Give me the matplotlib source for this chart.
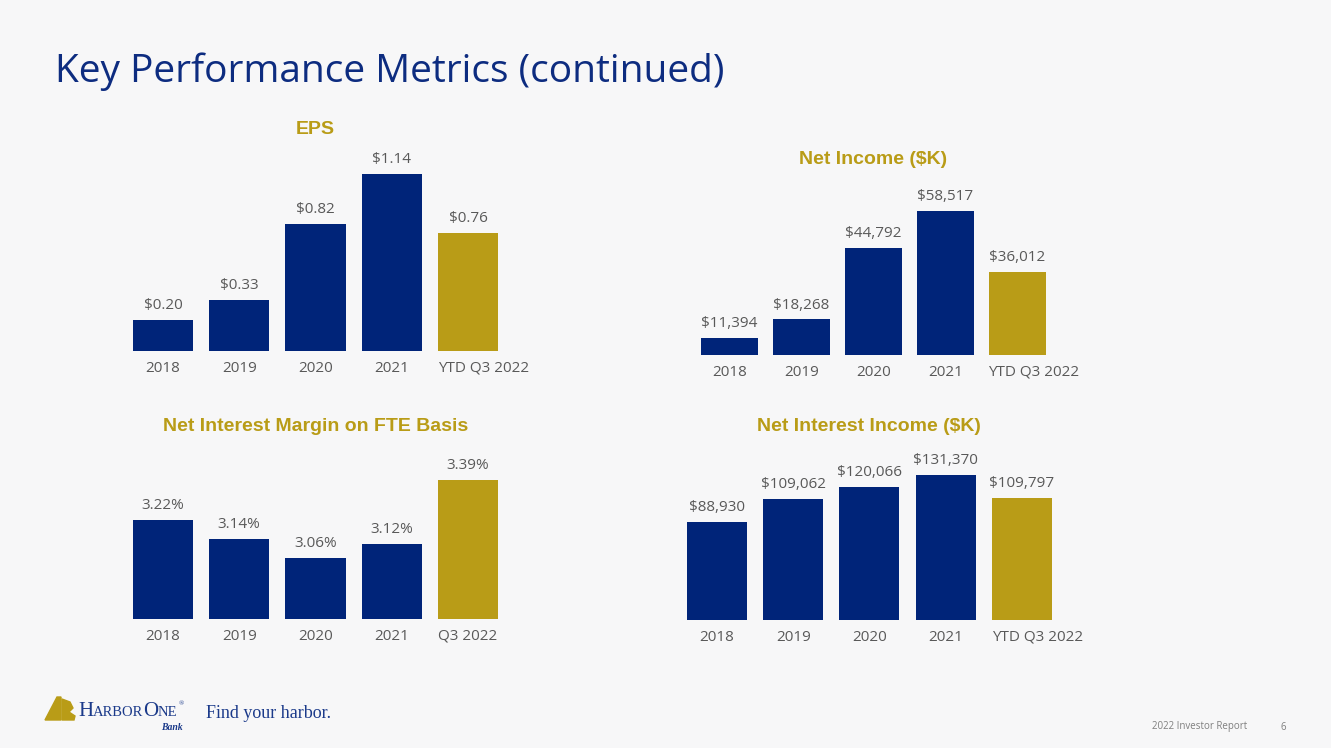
import matplotlib
matplotlib.use('Agg')
import matplotlib.pyplot as plt
import matplotlib.transforms as mtransforms
from matplotlib.patches import Polygon

# データ
years = ['2018', '2019', '2020', '2021', 'YTD Q3 2022']
years_nim = ['2018', '2019', '2020', '2021', 'Q3 2022']
eps = [0.20, 0.33, 0.82, 1.14, 0.76]
net_income = [11394, 18268, 44792, 58517, 36012]
nim = [3.22, 3.14, 3.06, 3.12, 3.39]
nii = [88930, 109062, 120066, 131370, 109797]

NAVY = '#002479'
GOLD = '#B99C17'
GRAY = '#595959'
BG = '#F7F7F8'
W, H = 1331, 748

plt.rcParams['font.family'] = ['Open Sans', 'DejaVu Sans']

fig = plt.figure(figsize=(W / 100, H / 100), dpi=100, facecolor=BG)


def make_axes(c0, step, base_y, ppu, ymin, ymax):
    # 1本目の棒の中心 c0, 間隔 step, 基線 base_y (上からのpx)
    left = c0 - step / 2
    height = (ymax - ymin) * ppu
    ax = fig.add_axes([left / W, (H - base_y) / H, 5 * step / W, height / H])
    ax.set_xlim(-0.5, 4.5)
    ax.set_ylim(ymin, ymax)
    ax.set_facecolor('none')
    for s in ax.spines.values():
        s.set_visible(False)
    ax.set_yticks([])
    return ax


def draw_bars(ax, labels, values, fmt, title, title_y):
    colors = [NAVY] * (len(values) - 1) + [GOLD]
    x = range(len(values))
    ax.bar(x, values, width=0.79, color=colors)
    for i, v in enumerate(values):
        ax.annotate(fmt(v), xy=(i, v), xytext=(0, 5), textcoords='offset points',
                    ha='center', va='bottom', fontsize=11, color=GRAY)
    ax.set_xticks(list(x))
    ax.set_xticklabels(labels, fontsize=11, color=GRAY)
    ax.tick_params(axis='x', length=0, pad=7)
    # 長いラベル (YTD...) は少し右にずれている
    for lab in ax.get_xticklabels():
        if lab.get_text().startswith('YTD'):
            lab.set_transform(lab.get_transform() +
                              mtransforms.ScaledTranslation(0.16, 0, fig.dpi_scale_trans))
    # 小見出し
    bb = ax.get_position()
    fig.text((bb.x0 + bb.x1) / 2, 1 - title_y / H, title, ha='center', va='center',
             fontsize=14, fontweight='bold', color=GOLD, family='Liberation Sans')


ax1 = make_axes(163, 76.25, 351, 155, 0, 1.3)
draw_bars(ax1, years, eps, lambda v: f'${v:.2f}', 'EPS', 130)

ax2 = make_axes(729.5, 72, 355, 0.002695, 5086, 62000)
draw_bars(ax2, years, net_income, lambda v: f'${v:,}', 'Net Income ($K)', 159)

ax3 = make_axes(163, 76.25, 619, 237.5, 2.805, 3.5)
draw_bars(ax3, years_nim, nim, lambda v: f'{v:.2f}%', 'Net Interest Margin on FTE Basis', 427)

ax4 = make_axes(717, 76.2, 620, 0.0011075, 0, 140000)
draw_bars(ax4, years, nii, lambda v: f'${v:,}', 'Net Interest Income ($K)', 427)

# タイトル
fig.text(55 / W, 1 - 72 / H, 'Key Performance Metrics (continued)', ha='left', va='center',
         fontsize=28, color='#0D2C80')

# フッター
fig.text(1247 / W, 1 - 727 / H, '2022 Investor Report', ha='right', va='center',
         fontsize=7, color='#7F7F7F')
fig.text(1283 / W, 1 - 727 / H, '6', ha='center', va='center', fontsize=7, color='#7F7F7F')

# ロゴ
logo = fig.add_axes([0, 0, 1, 1], facecolor='none')
logo.set_xlim(0, W)
logo.set_ylim(H, 0)
logo.axis('off')
logo.add_patch(Polygon([(45, 720), (57, 697), (61, 697), (61, 720)], closed=True, color=GOLD))
logo.add_patch(Polygon([(62, 699), (70, 702), (73, 708), (69, 712), (75, 716), (74, 720), (62, 720)],
                       closed=True, color=GOLD))
ink = '#1B3A8A'
logo.text(78, 712, 'H', fontsize=15, family='Liberation Serif', color=ink, va='center')
logo.text(93, 713, 'ARBOR', fontsize=10.5, family='Liberation Serif', color=ink, va='center')
logo.text(143, 712, 'O', fontsize=15, family='Liberation Serif', color=ink, va='center')
logo.text(158, 713, 'NE', fontsize=10.5, family='Liberation Serif', color=ink, va='center')
logo.text(179, 704, '®', fontsize=5, family='Liberation Serif', color=ink, va='center')
logo.text(183, 727, 'Bank', fontsize=7, family='Liberation Serif', style='italic',
          fontweight='bold', color=ink, va='center', ha='right')
logo.text(206, 714, 'Find your harbor.', fontsize=13, family='Liberation Serif',
          color=ink, va='center')

fig.savefig('out.png', dpi=100, facecolor=BG)
